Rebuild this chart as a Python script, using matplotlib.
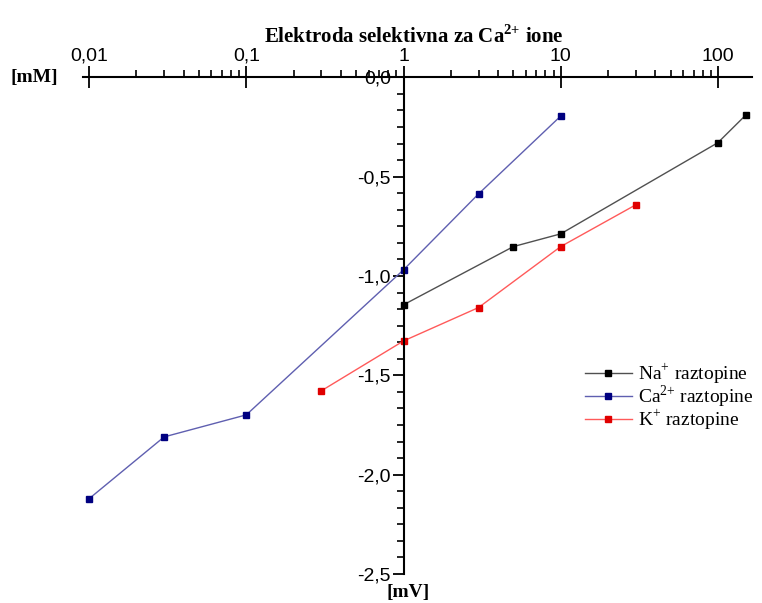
import numpy as np
import matplotlib
matplotlib.use('Agg')
import matplotlib.pyplot as plt
from matplotlib.ticker import FixedLocator, MultipleLocator, LogLocator, FuncFormatter, NullFormatter

plt.rcParams['mathtext.fontset'] = 'custom'
plt.rcParams['mathtext.rm'] = 'Liberation Serif'
plt.rcParams['mathtext.bf'] = 'Liberation Serif:bold'

# data (concentration in mM, signal in mV)
na_x = [1, 5, 10, 100, 150]
na_y = [-1.145, -0.852, -0.788, -0.329, -0.191]

ca_x = [0.01, 0.03, 0.1, 1, 3, 10]
ca_y = [-2.121, -1.810, -1.699, -0.969, -0.587, -0.195]

k_x = [0.3, 1, 3, 10, 30]
k_y = [-1.578, -1.327, -1.159, -0.852, -0.642]

x_ticks = [0.01, 0.1, 1, 10, 100]
x_tick_labels = ['0,01', '0,1', '1', '10', '100']

fig = plt.figure(figsize=(7.62, 6.03), dpi=100)
ax = fig.add_axes([0.1085, 0.0481, 0.8785, 0.8237])

ax.plot(na_x, na_y, color='#505050', lw=1.0, marker='s', ms=4.5,
        mfc='black', mec='black', label=r'Na$^{\mathrm{{+}}}$ raztopine')
ax.plot(ca_x, ca_y, color='#5f5fb0', lw=1.0, marker='s', ms=4.5,
        mfc='#000080', mec='#000080', label=r'Ca$^{\mathrm{2{+}}}$ raztopine')
ax.plot(k_x, k_y, color='#ff5a5a', lw=1.0, marker='s', ms=4.5,
        mfc='#e00000', mec='#e00000', label=r'K$^{\mathrm{{+}}}$ raztopine')

ax.set_xscale('log')
ax.set_xlim(0.0091, 165)
ax.set_ylim(-2.5, 0.0)

# axes: x axis along the top (y = 0), y axis crossing at x = 1
for s in ['bottom', 'right']:
    ax.spines[s].set_visible(False)
ax.spines['top'].set_linewidth(1.5)
ax.spines['left'].set_linewidth(1.5)
ax.spines['left'].set_position(('data', 1))

ax.xaxis.set_ticks_position('top')
ax.xaxis.set_major_locator(FixedLocator(x_ticks))
ax.set_xticklabels(x_tick_labels)
ax.xaxis.set_minor_locator(LogLocator(base=10, subs=np.arange(2, 10), numticks=20))
ax.xaxis.set_minor_formatter(NullFormatter())
ax.tick_params(axis='x', which='major', direction='inout', length=16, width=1.3,
               labelsize=14, pad=1)
ax.tick_params(axis='x', which='minor', direction='out', length=5, width=1.2)

ax.yaxis.set_major_locator(MultipleLocator(0.5))
ax.yaxis.set_minor_locator(MultipleLocator(0.5 / 6))


def comma_fmt(v, pos):
    if abs(v) < 1e-9:
        return '0,0'
    return f'{v:.1f}'.replace('.', ',')


ax.yaxis.set_major_formatter(FuncFormatter(comma_fmt))
ax.tick_params(axis='y', which='major', direction='out', length=8, width=1.3,
               labelsize=14, pad=1)
ax.tick_params(axis='y', which='minor', direction='out', length=5, width=1.2)

for lab in ax.get_xticklabels() + ax.get_yticklabels():
    lab.set_family('Liberation Sans')

ax.patch.set_visible(False)

fig.text(0.543, 0.939, r'Elektroda selektivna za Ca$^{\mathbf{2{+}}}$ ione', ha='center', va='center',
         fontsize=15, fontweight='bold', family='Liberation Serif')
fig.text(0.045, 0.872, '[mM]', ha='center', va='center', fontsize=14,
         fontweight='bold', family='Liberation Serif')
fig.text(0.535, 0.018, '[mV]', ha='center', va='center', fontsize=14,
         fontweight='bold', family='Liberation Serif')

leg = ax.legend(loc='upper left', bbox_to_anchor=(0.73, 0.455), frameon=False,
                prop={'family': 'Liberation Serif', 'size': 14}, handlelength=2.4,
                handletextpad=0.35, labelspacing=-0.12, numpoints=1, borderpad=0.2)

fig.savefig('out.png', dpi=100)
